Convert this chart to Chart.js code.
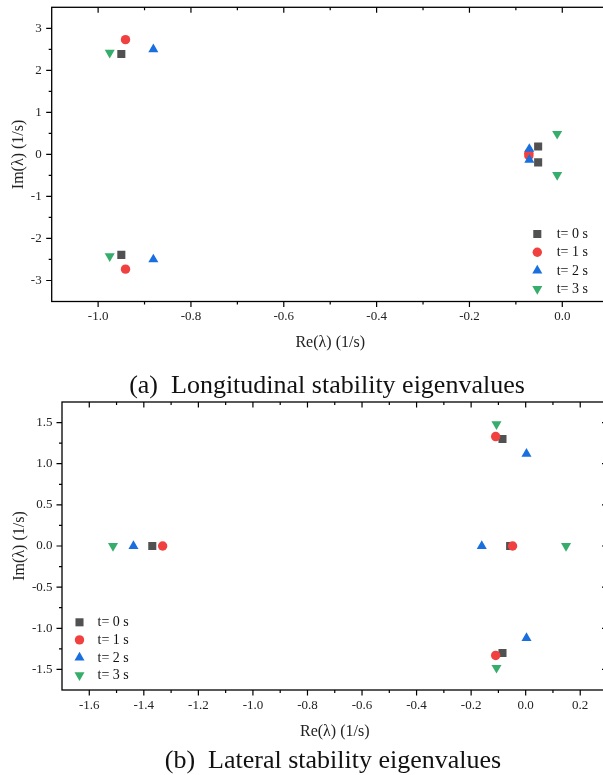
<!DOCTYPE html>
<html><head><meta charset="utf-8">
<script src="https://cdn.jsdelivr.net/npm/chart.js@4.4.0/dist/chart.umd.min.js"></script>
<style>
html,body{margin:0;padding:0;background:#fff;width:603px;height:775px;overflow:hidden;}
#wrap{position:relative;width:603px;height:775px;overflow:hidden;background:#fff;}
canvas{position:absolute;left:0;}
#ca{top:0;} #cb{top:395px;}
.cap{position:absolute;transform:translateX(-50%);font-family:"Liberation Serif","Times New Roman",serif;font-size:26px;line-height:30px;white-space:pre;color:#111;z-index:2;}
</style></head>
<body><div id="wrap">
<canvas id="ca" width="620" height="365"></canvas>
<canvas id="cb" width="620" height="355"></canvas>
<div class="cap" id="capA" style="left:327px;top:370px;">(a)  Longitudinal stability eigenvalues</div>
<div class="cap" id="capB" style="left:333px;top:745px;">(b)  Lateral stability eigenvalues</div>
</div>
<script>
// ---------- data ----------
const seriesLabels = ['t= 0 s', 't= 1 s', 't= 2 s', 't= 3 s'];

// (a) longitudinal eigenvalues: real and imaginary parts
const longRe_t0 = [-0.950, -0.950, -0.052, -0.052];
const longIm_t0 = [2.39, -2.39, 0.19, -0.19];
const longRe_t1 = [-0.941, -0.941, -0.072, -0.072];
const longIm_t1 = [2.73, -2.73, 0.03, -0.03];
const longRe_t2 = [-0.881, -0.881, -0.071, -0.071];
const longIm_t2 = [2.50, -2.50, 0.13, -0.13];
const longRe_t3 = [-0.975, -0.975, -0.011, -0.011];
const longIm_t3 = [2.42, -2.42, 0.49, -0.49];

// (b) lateral eigenvalues
const latRe_t0 = [-1.369, -0.057, -0.085, -0.085];
const latIm_t0 = [0, 0, 1.30, -1.30];
const latRe_t1 = [-1.331, -0.048, -0.110, -0.110];
const latIm_t1 = [0, 0, 1.33, -1.33];
const latRe_t2 = [-1.438, -0.161, 0.003, 0.003];
const latIm_t2 = [0, 0, 1.12, -1.12];
const latRe_t3 = [-1.513, 0.148, -0.107, -0.107];
const latIm_t3 = [0, 0, 1.48, -1.48];

// tick labels
const longXTicks = [-1.0, -0.8, -0.6, -0.4, -0.2, 0.0];
const longYTicks = [-3, -2, -1, 0, 1, 2, 3];
const latXTicks = [-1.6, -1.4, -1.2, -1.0, -0.8, -0.6, -0.4, -0.2, 0.0, 0.2];
const latYTicks = [-1.5, -1.0, -0.5, 0.0, 0.5, 1.0, 1.5];

// ---------- styling ----------
const FONT = '"Liberation Serif", "Times New Roman", serif';
const COLORS = ['#515151', '#F14040', '#1A6FDF', '#37AD6B'];
const STYLES = [
  {pointStyle: 'rect', rotation: 0, radius: 5.7},
  {pointStyle: 'circle', rotation: 0, radius: 4.7},
  {pointStyle: 'triangle', rotation: 0, radius: 5.8},
  {pointStyle: 'triangle', rotation: 180, radius: 5.8}
];

function pts(re, im) { return re.map((r, i) => ({x: r, y: im[i]})); }

function makeDatasets(pairs) {
  return pairs.map((p, i) => ({
    label: seriesLabels[i],
    data: pts(p[0], p[1]),
    backgroundColor: COLORS[i],
    borderColor: COLORS[i],
    borderWidth: 0,
    pointStyle: STYLES[i].pointStyle,
    pointRotation: STYLES[i].rotation,
    pointRadius: STYLES[i].radius,
    pointHoverRadius: STYLES[i].radius,
    order: 3 - i,
    showLine: false
  }));
}

function minorsOf(majors, min, max) {
  const step = majors[1] - majors[0];
  const out = [];
  const first = majors[0] - step / 2, last = majors[majors.length - 1] + step / 2;
  if (first > min + 1e-9) out.push(first);
  for (let i = 0; i < majors.length - 1; i++) out.push((majors[i] + majors[i + 1]) / 2);
  if (last < max - 1e-9) out.push(last);
  return out;
}

function makeScale(axis, min, max, ticks, fmt, fitSize, tickPad, title, titlePad) {
  return {
    type: 'linear',
    position: axis === 'x' ? 'bottom' : 'left',
    min: min, max: max,
    afterBuildTicks: s => { s.ticks = ticks.map(v => ({value: v})); },
    afterFit: s => {
      if (axis === 'x') s.height = fitSize; else s.width = fitSize;
      s.paddingTop = 0; s.paddingBottom = 0; s.paddingLeft = 0; s.paddingRight = 0;
    },
    grid: {display: false, drawTicks: false},
    border: {display: false},
    ticks: {
      autoSkip: false, maxRotation: 0, minRotation: 0, padding: tickPad,
      color: '#222', font: {family: FONT, size: 13},
      callback: v => fmt(v)
    },
    title: {
      display: true, text: title, color: '#222',
      font: {family: FONT, size: 16},
      padding: axis === 'x' ? {top: 0, bottom: titlePad} : {top: titlePad, bottom: 0}
    }
  };
}

const framePlugin = {
  id: 'frameTicks',
  afterDraw(chart, args, o) {
    const {ctx, chartArea: a, scales} = chart;
    const x = scales.x, y = scales.y;
    ctx.save();
    ctx.strokeStyle = '#000';
    ctx.lineWidth = 1.3;
    ctx.strokeRect(a.left, a.top, a.right - a.left, a.bottom - a.top);
    ctx.lineWidth = 1.2;
    ctx.beginPath();
    const tk = (vals, len) => {
      vals.forEach(v => {
        const px = x.getPixelForValue(v);
        ctx.moveTo(px, a.bottom); ctx.lineTo(px, a.bottom + len);
        ctx.moveTo(px, a.top); ctx.lineTo(px, a.top + len);
      });
    };
    const tky = (vals, len) => {
      vals.forEach(v => {
        const py = y.getPixelForValue(v);
        ctx.moveTo(a.left, py); ctx.lineTo(a.left - len, py);
        ctx.moveTo(a.right, py); ctx.lineTo(a.right - len, py);
      });
    };
    tk(o.xMajor, 5.5); tk(minorsOf(o.xMajor, x.min, x.max), 3);
    tky(o.yMajor, 5.5); tky(minorsOf(o.yMajor, y.min, y.max), 3);
    ctx.stroke();

    // legend
    ctx.font = '14px ' + FONT;
    ctx.textBaseline = 'middle';
    ctx.textAlign = 'left';
    chart.data.datasets.forEach((ds, i) => {
      const ly = o.legY + i * o.legStep;
      ctx.fillStyle = COLORS[i];
      const opt = {pointStyle: STYLES[i].pointStyle, rotation: STYLES[i].rotation, radius: STYLES[i].radius, borderWidth: 0};
      if (Chart.helpers && Chart.helpers.drawPoint) {
        Chart.helpers.drawPoint(ctx, opt, o.legX, ly);
      } else {
        ctx.beginPath(); ctx.arc(o.legX, ly, 4.5, 0, Math.PI * 2); ctx.fill();
      }
      ctx.fillStyle = '#111';
      ctx.fillText(ds.label, o.legTextX, ly + 0.5);
    });
    ctx.restore();
  }
};

function makeChart(id, pairs, xs, ys, frameOpts, pad) {
  return new Chart(document.getElementById(id), {
    type: 'scatter',
    data: {datasets: makeDatasets(pairs)},
    options: {
      responsive: false, animation: false, devicePixelRatio: 1,
      layout: {padding: pad, autoPadding: false},
      plugins: {legend: {display: false}, tooltip: {enabled: false}, frameTicks: frameOpts},
      scales: {x: xs, y: ys},
      events: []
    },
    plugins: [framePlugin]
  });
}

const fmt1 = v => (Math.round(v * 10) / 10).toFixed(1);
const fmt0 = v => String(Math.round(v));

makeChart('ca',
  [[longRe_t0, longIm_t0], [longRe_t1, longIm_t1], [longRe_t2, longIm_t2], [longRe_t3, longIm_t3]],
  makeScale('x', -1.1, 0.1, longXTicks, fmt1, 365 - 301.5, 7.4, 'Re(λ) (1/s)', 12.4),
  makeScale('y', -3.5, 3.5, longYTicks, fmt0, 51.7, 10, 'Im(λ) (1/s)', 9.4),
  {xMajor: longXTicks, yMajor: longYTicks, legX: 537.3, legTextX: 556.7, legY: 234, legStep: 18.3},
  {left: 0, top: 7.3, right: 620 - 608.7, bottom: 0});

makeChart('cb',
  [[latRe_t0, latIm_t0], [latRe_t1, latIm_t1], [latRe_t2, latIm_t2], [latRe_t3, latIm_t3]],
  makeScale('x', -1.7, 0.3, latXTicks, fmt1, 355 - 295, 8, 'Re(λ) (1/s)', 8.7),
  makeScale('y', -1.75, 1.75, latYTicks, fmt1, 62, 9.5, 'Im(λ) (1/s)', 10.4),
  {xMajor: latXTicks, yMajor: latYTicks, legX: 79.5, legTextX: 97.5, legY: 227.3, legStep: 17.6},
  {left: 0, top: 7, right: 620 - 607.5, bottom: 0});
</script>
</body></html>
